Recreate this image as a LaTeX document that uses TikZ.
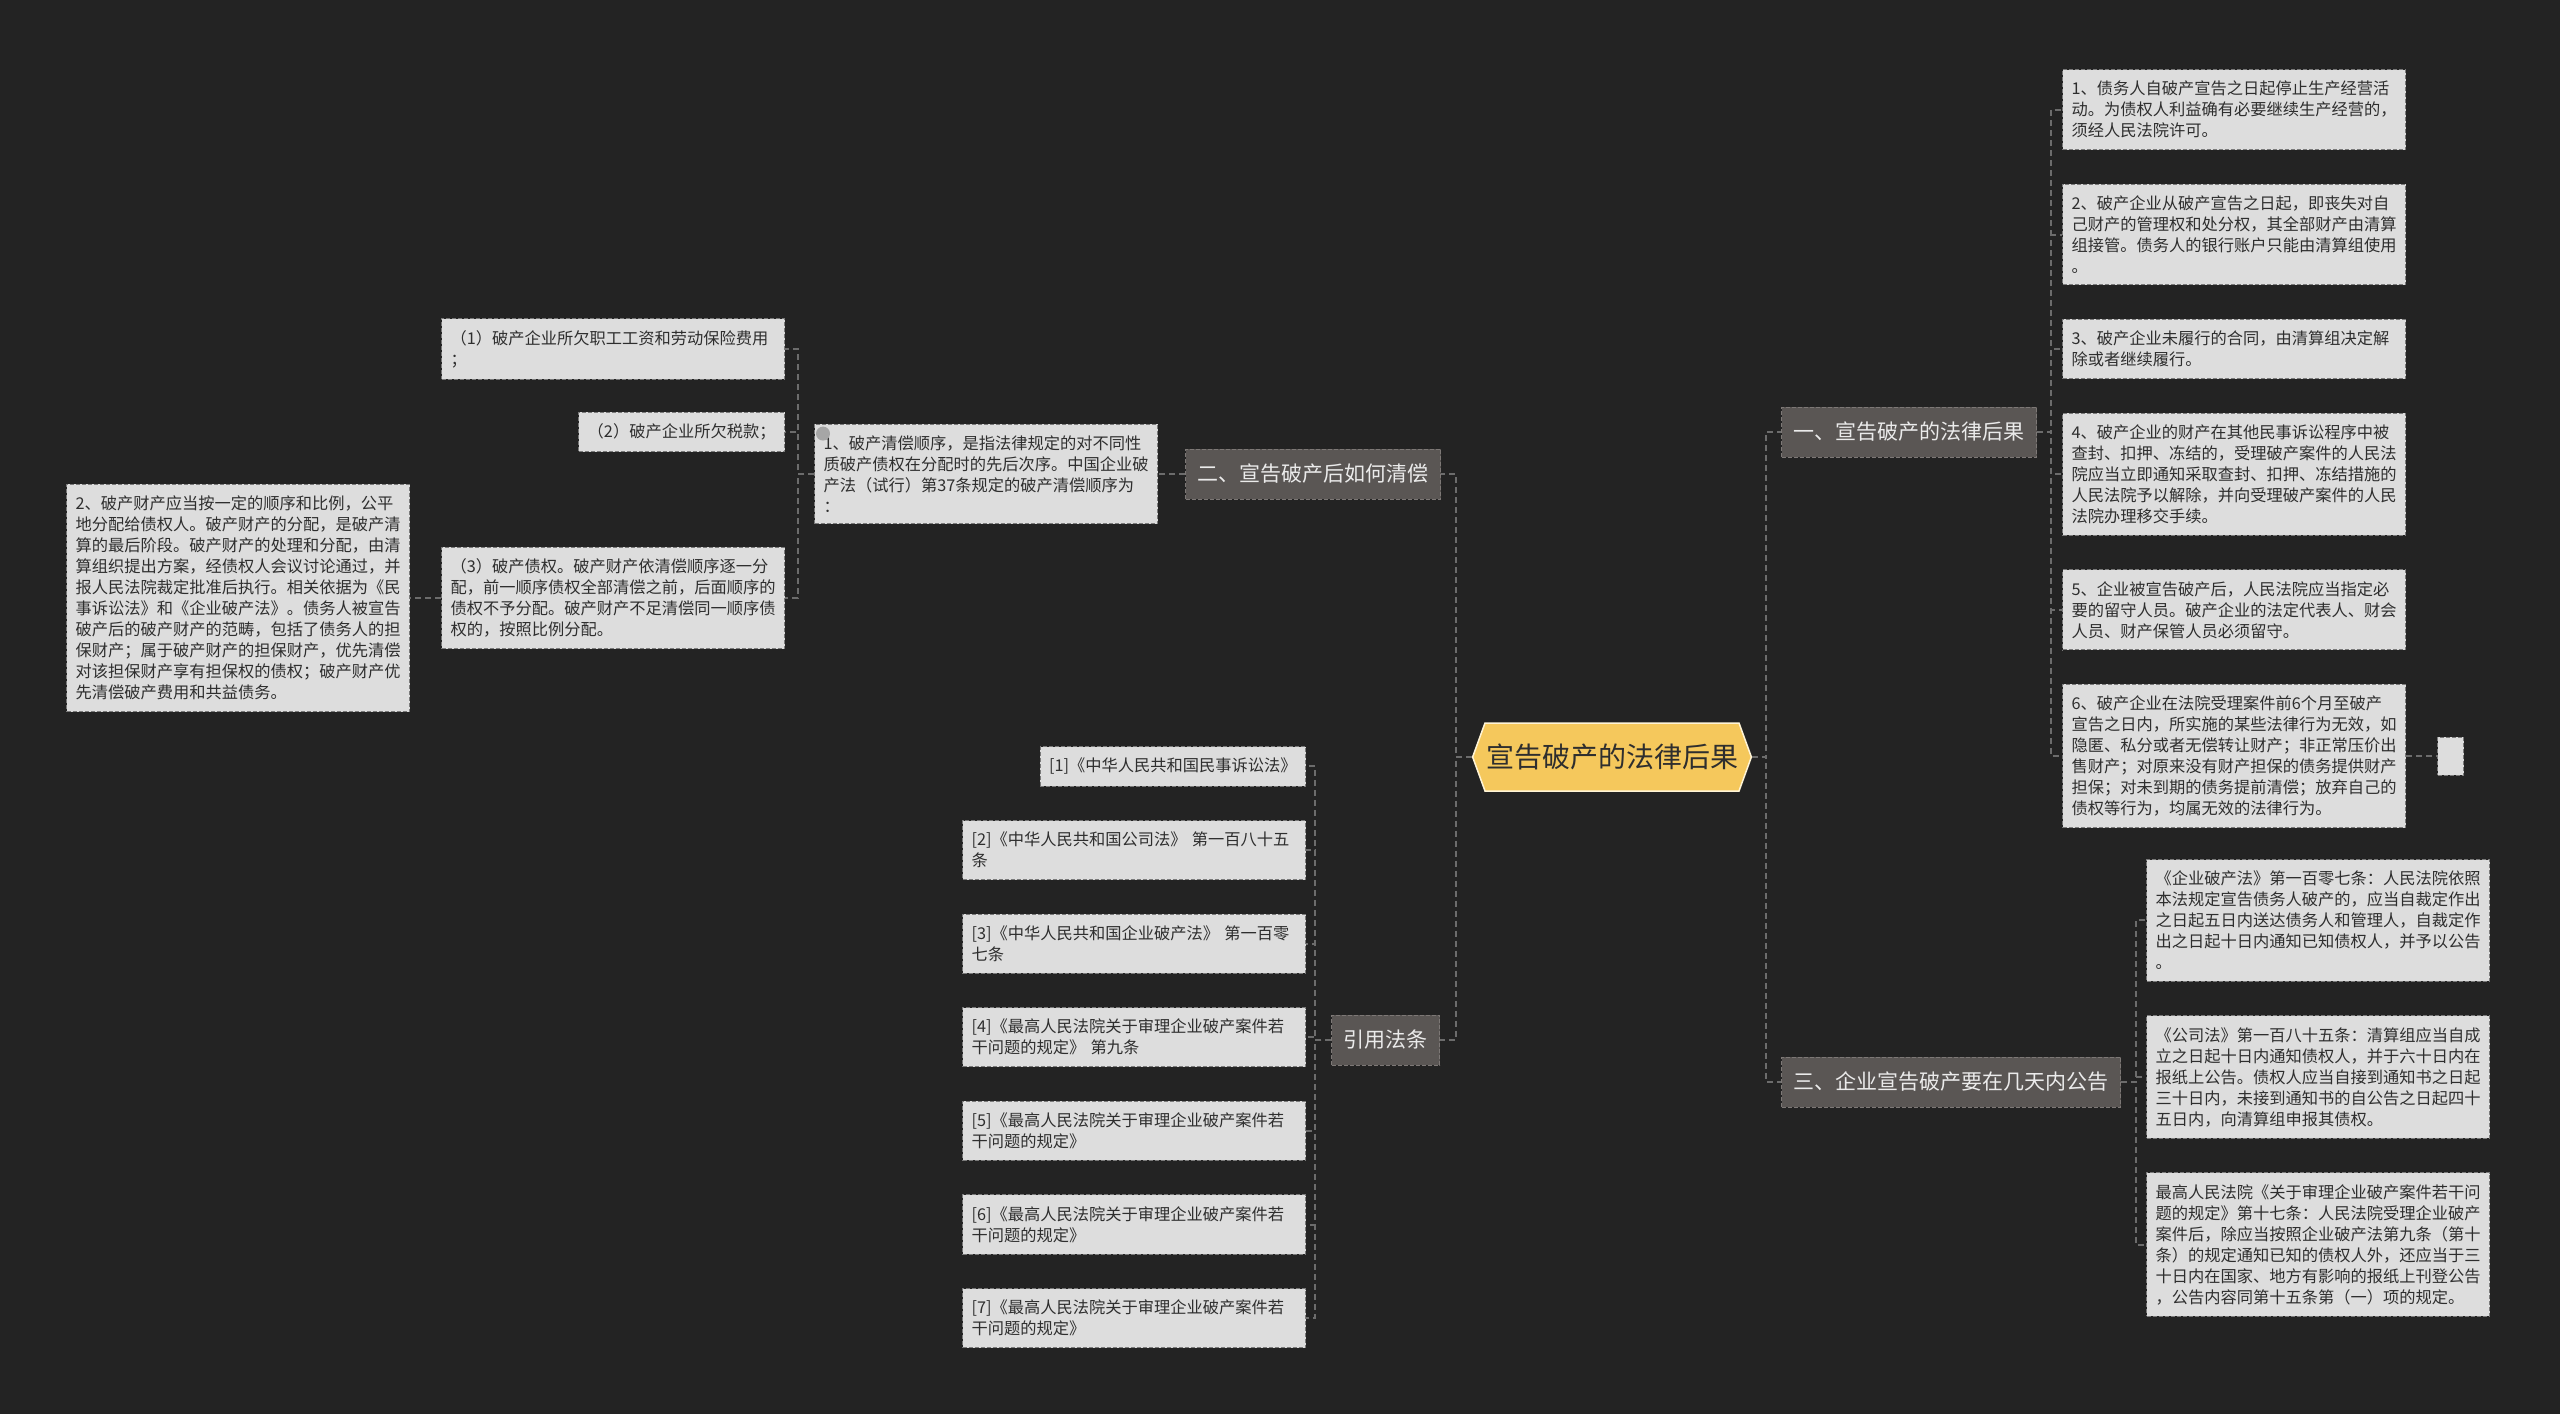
\documentclass[tikz,border=0pt]{standalone}
\usepackage{fontspec}
\setmainfont{Noto Sans CJK SC}
\usepackage{tikz}
\usetikzlibrary{positioning, shapes.symbols}
\usepackage{xcolor}

\definecolor{bgdark}{HTML}{232323}
\definecolor{leaffill}{HTML}{DDDDDD}
\definecolor{leafline}{HTML}{7A7A7A}
\definecolor{topicfill}{HTML}{5A5654}
\definecolor{topicline}{HTML}{7D7876}
\definecolor{rootfill}{HTML}{F5C85C}
\definecolor{rootline}{HTML}{FFF4D6}
\definecolor{linkgray}{HTML}{6C6C6C}
\definecolor{inkdark}{HTML}{2E2E2E}

\begin{document}
\begin{tikzpicture}[x=1pt, y=-1pt, node distance=33.5pt,
    root/.style={signal, signal to=west and east, signal pointer angle=140,
        fill=rootfill, draw=rootline, line width=1.5pt, text=inkdark,
        font=\fontsize{28pt}{32pt}\selectfont, minimum height=68pt, inner xsep=1pt},
    topic/.style={rectangle, fill=topicfill, draw=topicline, dash pattern=on 4pt off 2pt,
        line width=1pt, text=white!92!black, font=\fontsize{21pt}{26pt}\selectfont,
        minimum height=50pt, inner xsep=12pt},
    leaf/.style={rectangle, fill=leaffill, draw=leafline, dash pattern=on 4pt off 2pt,
        line width=1pt, text=inkdark, font=\fontsize{16.25pt}{21pt}\selectfont,
        align=left, inner xsep=9pt, inner ysep=11.5pt},
    wide/.style={leaf, text width=325pt},
    link/.style={draw=linkgray, dash pattern=on 6pt off 4pt, line width=2pt},
  ]
   \fill[bgdark, use as bounding box] (0,0) rectangle (2560,1414);

   % 中心主题
   \node[root] (root) at (1612,757) {宣告破产的法律后果};

   % 右侧：一、宣告破产的法律后果
   \node[topic, anchor=west] (t1) at (1781,432) {一、宣告破产的法律后果};
   \node[wide, anchor=north west] (r1) at (2062,69) {1、债务人自破产宣告之日起停止生产经营活\\动。为债权人利益确有必要继续生产经营的，\\须经人民法院许可。};
   \node[wide, below=of r1.south west, anchor=north west] (r2) {2、破产企业从破产宣告之日起，即丧失对自\\己财产的管理权和处分权，其全部财产由清算\\组接管。债务人的银行账户只能由清算组使用\\。};
   \node[wide, below=of r2.south west, anchor=north west] (r3) {3、破产企业未履行的合同，由清算组决定解\\除或者继续履行。};
   \node[wide, below=of r3.south west, anchor=north west] (r4) {4、破产企业的财产在其他民事诉讼程序中被\\查封、扣押、冻结的，受理破产案件的人民法\\院应当立即通知采取查封、扣押、冻结措施的\\人民法院予以解除，并向受理破产案件的人民\\法院办理移交手续。};
   \node[wide, below=of r4.south west, anchor=north west] (r5) {5、企业被宣告破产后，人民法院应当指定必\\要的留守人员。破产企业的法定代表人、财会\\人员、财产保管人员必须留守。};
   \node[wide, below=of r5.south west, anchor=north west] (r6) {6、破产企业在法院受理案件前6个月至破产\\宣告之日内，所实施的某些法律行为无效，如\\隐匿、私分或者无偿转让财产；非正常压价出\\售财产；对原来没有财产担保的债务提供财产\\担保；对未到期的债务提前清偿；放弃自己的\\债权等行为，均属无效的法律行为。};
   \node[leaf, inner sep=0pt, minimum width=26pt, minimum height=38pt, right=31pt of r6] (r6x) {};

   % 右侧：三、企业宣告破产要在几天内公告
   \node[topic, anchor=west] (t3) at (1781,1082) {三、企业宣告破产要在几天内公告};
   \node[wide, anchor=north west] (s1) at (2146,859) {《企业破产法》第一百零七条：人民法院依照\\本法规定宣告债务人破产的，应当自裁定作出\\之日起五日内送达债务人和管理人，自裁定作\\出之日起十日内通知已知债权人，并予以公告\\。};
   \node[wide, below=of s1.south west, anchor=north west] (s2) {《公司法》第一百八十五条：清算组应当自成\\立之日起十日内通知债权人，并于六十日内在\\报纸上公告。债权人应当自接到通知书之日起\\三十日内，未接到通知书的自公告之日起四十\\五日内，向清算组申报其债权。};
   \node[wide, below=of s2.south west, anchor=north west] (s3) {最高人民法院《关于审理企业破产案件若干问\\题的规定》第十七条：人民法院受理企业破产\\案件后，除应当按照企业破产法第九条（第十\\条）的规定通知已知的债权人外，还应当于三\\十日内在国家、地方有影响的报纸上刊登公告\\，公告内容同第十五条第（一）项的规定。};

   % 左侧：二、宣告破产后如何清偿
   \node[topic, anchor=east] (t2) at (1441,474) {二、宣告破产后如何清偿};
   \node[wide, anchor=east] (q1) at (1158,474) {1、破产清偿顺序，是指法律规定的对不同性\\质破产债权在分配时的先后次序。中国企业破\\产法（试行）第37条规定的破产清偿顺序为\\：};
   \node[wide, anchor=east] (p1) at (785,349) {（1）破产企业所欠职工工资和劳动保险费用\\；};
   \node[leaf, anchor=east] (p2) at (785,432) {（2）破产企业所欠税款；};
   \node[wide, anchor=east] (p3) at (785,598) {（3）破产债权。破产财产依清偿顺序逐一分\\配，前一顺序债权全部清偿之前，后面顺序的\\债权不予分配。破产财产不足清偿同一顺序债\\权的，按照比例分配。};
   \node[wide, left=31pt of p3] (q2) {2、破产财产应当按一定的顺序和比例，公平\\地分配给债权人。破产财产的分配，是破产清\\算的最后阶段。破产财产的处理和分配，由清\\算组织提出方案，经债权人会议讨论通过，并\\报人民法院裁定批准后执行。相关依据为《民\\事诉讼法》和《企业破产法》。债务人被宣告\\破产后的破产财产的范畴，包括了债务人的担\\保财产；属于破产财产的担保财产，优先清偿\\对该担保财产享有担保权的债权；破产财产优\\先清偿破产费用和共益债务。};
   \fill[black!35] ([shift={(9,10)}]q1.north west) circle (7);

   % 左侧：引用法条
   \node[topic, anchor=east] (t4) at (1440,1040) {引用法条};
   \node[leaf, anchor=north east] (c1) at (1306,746) {[1]《中华人民共和国民事诉讼法》};
   \node[wide, below=of c1.south east, anchor=north east] (c2) {[2]《中华人民共和国公司法》~第一百八十五\\条};
   \node[wide, below=of c2.south east, anchor=north east] (c3) {[3]《中华人民共和国企业破产法》~第一百零\\七条};
   \node[wide, below=of c3.south east, anchor=north east] (c4) {[4]《最高人民法院关于审理企业破产案件若\\干问题的规定》~第九条};
   \node[wide, below=of c4.south east, anchor=north east] (c5) {[5]《最高人民法院关于审理企业破产案件若\\干问题的规定》};
   \node[wide, below=of c5.south east, anchor=north east] (c6) {[6]《最高人民法院关于审理企业破产案件若\\干问题的规定》};
   \node[wide, below=of c6.south east, anchor=north east] (c7) {[7]《最高人民法院关于审理企业破产案件若\\干问题的规定》};

   % 连线
   \draw[link] (root.east) -- ++(14,0) |- (t1.west);
   \draw[link] (root.east) -- ++(14,0) |- (t3.west);
   \draw[link] (root.west) -- ++(-16,0) |- (t2.east);
   \draw[link] (root.west) -- ++(-16,0) |- (t4.east);
   \foreach \n in {r1,r2,r3,r4,r5,r6}
     \draw[link] (t1.east) -- ++(14,0) |- (\n.west);
   \draw[link] (r6.east) -- (r6x.west);
   \foreach \n in {s1,s2,s3}
     \draw[link] (t3.east) -- ++(15,0) |- (\n.west);
   \draw[link] (t2.west) -- (q1.east);
   \foreach \n in {p1,p2,p3}
     \draw[link] (q1.west) -- ++(-16,0) |- (\n.east);
   \draw[link] (p3.west) -- (q2.east);
   \foreach \n in {c1,c2,c3,c4,c5,c6,c7}
     \draw[link] (t4.west) -- ++(-16,0) |- (\n.east);
\end{tikzpicture}
\end{document}
